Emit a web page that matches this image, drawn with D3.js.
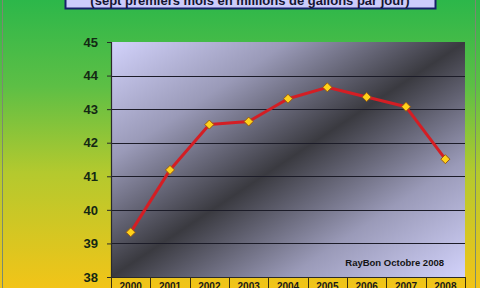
<!DOCTYPE html>
<html>
<head>
<meta charset="utf-8">
<script src="https://cdn.jsdelivr.net/npm/d3@7"></script>
<style>
	html,body{margin:0;padding:0;background:#fff;}
	svg{display:block;font-family:"Liberation Sans",Arial,sans-serif;}
</style>
</head>
<body>
<svg id="chart" width="480" height="288"></svg>
<script>
var years = ["2000","2001","2002","2003","2004","2005","2006","2007","2008"];
var values = [39.33, 41.19, 42.54, 42.63, 43.31, 43.65, 43.36, 43.07, 41.51];
var yTicks = [38, 39, 40, 41, 42, 43, 44, 45];
var subtitle = "(sept premiers mois en millions de gallons par jour)";
var credit = "RayBon Octobre 2008";

var svg = d3.select("#chart");
var defs = svg.append("defs");

// fond vert -> jaune
var bg = defs.append("linearGradient").attr("id","bg").attr("x1",0).attr("y1",0).attr("x2",0).attr("y2",1);
bg.append("stop").attr("offset","0").attr("stop-color","#2cb74a");
bg.append("stop").attr("offset","0.3").attr("stop-color","#5dbf45");
bg.append("stop").attr("offset","0.6").attr("stop-color","#b4c92e");
bg.append("stop").attr("offset","1").attr("stop-color","#f2c418");

// zone de tracé en diagonale
var pg = defs.append("linearGradient").attr("id","plotbg").attr("x1",0).attr("y1",0).attr("x2",1).attr("y2",1);
pg.append("stop").attr("offset","0").attr("stop-color","#d2d2fb");
pg.append("stop").attr("offset","0.25").attr("stop-color","#9a9ab8");
pg.append("stop").attr("offset","0.5").attr("stop-color","#3a3a40");
pg.append("stop").attr("offset","0.75").attr("stop-color","#9a9ab8");
pg.append("stop").attr("offset","1").attr("stop-color","#d2d2fb");

svg.append("rect").attr("width",480).attr("height",288).attr("fill","url(#bg)");
svg.append("rect").attr("x",2.5).attr("y",-2).attr("width",473).attr("height",295)
	.attr("fill","none").attr("stroke","#7a8a70").attr("stroke-width",1);

var m = {left:111, right:465, top:42, bottom:277};

var x = d3.scaleBand().domain(years).range([m.left, m.right]);
var y = d3.scaleLinear().domain([38,45]).range([m.bottom, m.top]);

svg.append("rect").attr("x",m.left).attr("y",m.top)
	.attr("width",m.right-m.left).attr("height",m.bottom-m.top)
	.attr("fill","url(#plotbg)");

// grille
svg.append("g").selectAll("line").data(yTicks.slice(1,-1)).enter().append("line")
	.attr("x1",m.left).attr("x2",m.right)
	.attr("y1",function(d){return Math.round(y(d))+0.5;})
	.attr("y2",function(d){return Math.round(y(d))+0.5;})
	.attr("stroke","#1c1c28").attr("stroke-width",1.2);

// axe Y
var yAxis = svg.append("g").attr("transform","translate("+(m.left)+",0)")
	.call(d3.axisLeft(y).tickValues(yTicks).tickFormat(d3.format("d")).tickSize(4).tickPadding(9));
yAxis.select(".domain").attr("stroke","#2a2a2a").attr("stroke-width",1.2);
yAxis.selectAll(".tick line").attr("stroke","#2a2a2a");
yAxis.selectAll(".tick text").attr("font-size",13).attr("font-weight","bold")
	.attr("fill","#142814").attr("font-family","Liberation Sans, Arial, sans-serif");

// tableau des années
var cells = svg.append("g");
cells.append("line").attr("x1",m.left).attr("x2",m.right).attr("y1",m.bottom+0.5).attr("y2",m.bottom+0.5)
	.attr("stroke","#2a2a2a").attr("stroke-width",1.2);
cells.selectAll("line.sep").data(years.concat(["end"])).enter().append("line").attr("class","sep")
	.attr("x1",function(d,i){return Math.round(m.left+i*x.step())+0.5;})
	.attr("x2",function(d,i){return Math.round(m.left+i*x.step())+0.5;})
	.attr("y1",m.bottom).attr("y2",288)
	.attr("stroke","#3a3010").attr("stroke-width",1);
cells.selectAll("text").data(years).enter().append("text")
	.attr("x",function(d){return x(d)+x.bandwidth()/2;})
	.attr("y",290)
	.attr("text-anchor","middle").attr("font-size",10).attr("font-weight","bold")
	.attr("fill","#1a1a1a").text(function(d){return d;});

// courbe
var line = d3.line()
	.x(function(d,i){return x(years[i])+x.bandwidth()/2;})
	.y(function(d){return y(d);});
svg.append("path").datum(values).attr("d",line)
	.attr("fill","none").attr("stroke","#d41e24").attr("stroke-width",3).attr("stroke-linejoin","round");

var r = 4.5;
svg.append("g").selectAll("path").data(values).enter().append("path")
	.attr("d","M0,"+(-r)+"L"+r+",0L0,"+r+"L"+(-r)+",0Z")
	.attr("transform",function(d,i){return "translate("+(x(years[i])+x.bandwidth()/2)+","+y(d)+")";})
	.attr("fill","#ffd21a").attr("stroke","#9a5a10").attr("stroke-width",1);

svg.append("text").attr("x",444).attr("y",266).attr("text-anchor","end")
	.attr("font-size",9.5).attr("font-weight","bold").attr("fill","#141414").text(credit);

// titre
svg.append("rect").attr("x",65.5).attr("y",-20).attr("width",370).attr("height",28.5)
	.attr("fill","#ccccfb").attr("stroke","#16206a").attr("stroke-width",2);
svg.append("text").attr("x",250).attr("y",4.5).attr("text-anchor","middle")
	.attr("font-size",13).attr("font-weight","bold").attr("fill","#141430").text(subtitle);
</script>
</body>
</html>
